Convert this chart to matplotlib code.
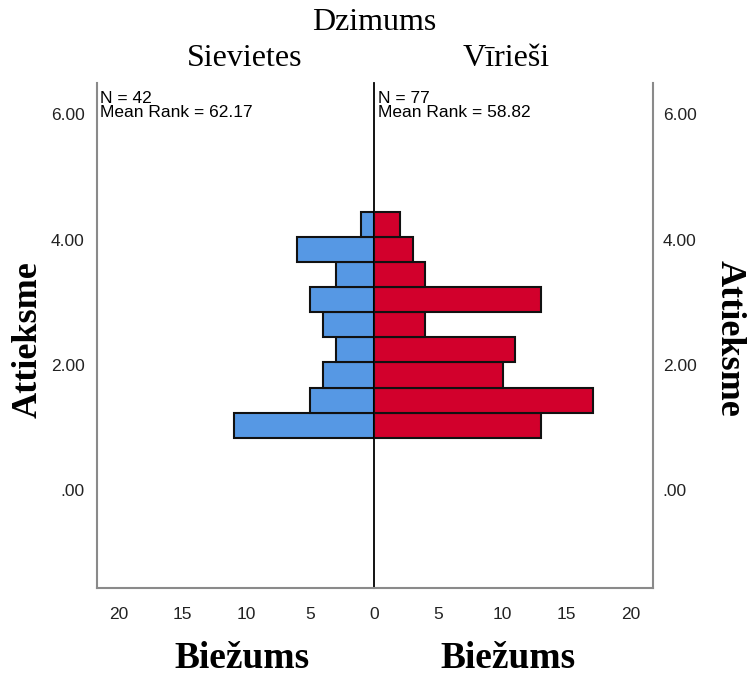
import matplotlib
matplotlib.use("Agg")
import matplotlib.pyplot as plt

# ---- data ----
bin_centers = [1.04, 1.44, 1.84, 2.24, 2.64, 3.04, 3.44, 3.84, 4.24]
bin_height = 0.4
female_counts = [11, 5, 4, 3, 4, 5, 3, 6, 1]
male_counts = [13, 17, 10, 11, 4, 13, 4, 3, 2]
x_ticks = [0, 5, 10, 15, 20]
y_ticks = [0, 2, 4, 6]
y_tick_labels = [".00", "2.00", "4.00", "6.00"]
panel_titles = ["Sievietes", "Vīrieši"]
panel_notes = ["N = 42\nMean Rank = 62.17", "N = 77\nMean Rank = 58.82"]
main_title = "Dzimums"
x_label = "Biežums"
y_label = "Attieksme"

blue = "#5698E4"
red = "#D2002C"
grey = "#8a8a8a"
serif = "Liberation Serif"
sans = "Liberation Sans"

W, H = 748, 675
fig = plt.figure(figsize=(W / 100, H / 100), dpi=100)

def fx(px):
    return px / W

def fy(py):
    return 1 - py / H

bottom_px, top_px = 588, 83
left_px, mid_px, right_px = 97, 374, 653
axL = fig.add_axes([fx(left_px), fy(bottom_px), fx(mid_px - left_px), (bottom_px - top_px) / H])
axR = fig.add_axes([fx(mid_px), fy(bottom_px), fx(right_px - mid_px), (bottom_px - top_px) / H])

ylim = (-1.56, 6.5)
xmax = 21.7

axL.barh(bin_centers, female_counts, height=bin_height, color=blue, edgecolor="#111111", linewidth=1.5, zorder=2)
axR.barh(bin_centers, male_counts, height=bin_height, color=red, edgecolor="#111111", linewidth=1.5, zorder=2)

axL.set_xlim(xmax, 0)
axR.set_xlim(0, xmax)
for ax in (axL, axR):
    ax.set_ylim(*ylim)
    ax.set_xticks(x_ticks)
    ax.tick_params(axis="both", length=0, pad=14)
    ax.spines["top"].set_visible(False)
    ax.set_facecolor("none")

axL.set_xticklabels([str(t) if t != 0 else "" for t in x_ticks], fontfamily=sans, fontsize=12.5, color="#222222")
axR.set_xticklabels([str(t) for t in x_ticks], fontfamily=sans, fontsize=12.5, color="#222222")

axL.set_yticks(y_ticks)
axL.set_yticklabels(y_tick_labels, fontfamily=sans, fontsize=12.5, color="#222222")
axL.tick_params(axis="y", pad=9)
axR.set_yticks(y_ticks)
axR.yaxis.tick_right()
axR.set_yticklabels(y_tick_labels, fontfamily=sans, fontsize=12.5, color="#222222")
axR.tick_params(axis="y", pad=7, length=0)

axL.spines["left"].set_color(grey)
axL.spines["left"].set_linewidth(1.5)
axL.spines["bottom"].set_color(grey)
axL.spines["bottom"].set_linewidth(1.5)
axL.spines["right"].set_color("black")
axL.spines["right"].set_linewidth(1.3)
axL.spines["right"].set_zorder(3)
axR.spines["left"].set_visible(False)
axR.spines["right"].set_color(grey)
axR.spines["right"].set_linewidth(1.5)
axR.spines["bottom"].set_color(grey)
axR.spines["bottom"].set_linewidth(1.5)

# annotations
axL.text(0.01, 0.985, panel_notes[0], transform=axL.transAxes, ha="left", va="top",
         fontfamily=sans, fontsize=12.5, linespacing=0.95, color="black")
axR.text(0.015, 0.985, panel_notes[1], transform=axR.transAxes, ha="left", va="top",
         fontfamily=sans, fontsize=12.5, linespacing=0.95, color="black")

# titles
fig.text(fx(374), fy(22), main_title, ha="center", va="center", fontfamily=serif, fontsize=23)
fig.text(fx(245), fy(58), panel_titles[0], ha="center", va="center", fontfamily=serif, fontsize=23)
fig.text(fx(506), fy(58), panel_titles[1], ha="center", va="center", fontfamily=serif, fontsize=23)

# axis labels
fig.text(fx(242), fy(658), x_label, ha="center", va="center", fontfamily=serif, fontsize=27, fontweight="bold")
fig.text(fx(508), fy(658), x_label, ha="center", va="center", fontfamily=serif, fontsize=27, fontweight="bold")
fig.text(fx(28), fy(340), y_label, ha="center", va="center", rotation=90, fontfamily=serif, fontsize=26, fontweight="bold")
fig.text(fx(729), fy(338), y_label, ha="center", va="center", rotation=270, fontfamily=serif, fontsize=26, fontweight="bold")

fig.savefig("out.png", dpi=100)
